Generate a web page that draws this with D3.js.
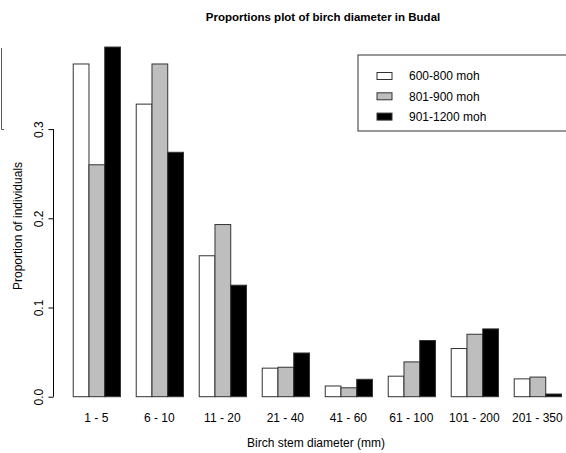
<!DOCTYPE html>
<html>
<head>
<meta charset="utf-8">
<script src="https://cdn.jsdelivr.net/npm/d3@7"></script>
<style>
  html, body { margin: 0; padding: 0; background: #fff; }
  svg { display: block; }
  text { font-family: "Liberation Sans", Arial, Helvetica, sans-serif; }
</style>
</head>
<body>
<svg id="chart" width="566" height="453"></svg>
<script>
const categories = ["1 - 5", "6 - 10", "11 - 20", "21 - 40", "41 - 60", "61 - 100", "101 - 200", "201 - 350"];
const seriesNames = ["600-800 moh", "801-900 moh", "901-1200 moh"];
const s600 = [0.373, 0.328, 0.158, 0.032, 0.012, 0.023, 0.054, 0.020];
const s801 = [0.260, 0.373, 0.193, 0.033, 0.010, 0.039, 0.070, 0.022];
const s901 = [0.392, 0.274, 0.125, 0.049, 0.0195, 0.063, 0.076, 0.003];
const seriesFill = ["#ffffff", "#bebebe", "#000000"];
const yTicks = [0, 0.1, 0.2, 0.3];

const series = [s600, s801, s901];
const svg = d3.select("#chart");

// x in "bar units" (R barplot beside layout: 3 bars + 1 space per group)
const x = d3.scaleLinear().domain([-0.24, 33.24]).range([53.2, 580.5]);
const y = d3.scaleLinear().domain([0, 0.3]).range([396.7, 129.1]);

// bars
const bars = [];
categories.forEach((c, i) => {
  series.forEach((s, j) => {
    bars.push({ cat: c, i, j, v: s[i] });
  });
});
svg.append("g").selectAll("rect").data(bars).join("rect")
  .attr("x", d => x(d.i * 4 + 1 + d.j) + 0.5)
  .attr("width", d => x(d.i * 4 + 2 + d.j) - x(d.i * 4 + 1 + d.j))
  .attr("y", d => y(d.v))
  .attr("height", d => y(0) - y(d.v))
  .attr("fill", d => seriesFill[d.j])
  .attr("stroke", "#333")
  .attr("stroke-width", 1);

// category labels
svg.append("g").selectAll("text").data(categories).join("text")
  .attr("x", (d, i) => x(i * 4 + 2.5))
  .attr("y", 422)
  .attr("text-anchor", "middle")
  .attr("font-size", 12)
  .attr("fill", "#000")
  .text(d => d);

// y axis
const yAxis = d3.axisLeft(y).tickValues(yTicks).tickSize(5).tickSizeOuter(0)
  .tickFormat(d3.format(".1f"));
const ga = svg.append("g").attr("transform", "translate(53.5,0)").call(yAxis);
ga.select(".domain").attr("stroke", "#000").attr("d", `M0,${y(0)}V${y(0.3)}`);
ga.selectAll(".tick line").attr("stroke", "#000");
ga.selectAll(".tick text")
  .attr("x", null).attr("dy", null)
  .attr("transform", "translate(-11,0) rotate(-90)")
  .attr("text-anchor", "middle")
  .attr("y", 0)
  .attr("font-size", 12)
  .attr("font-family", "Liberation Sans, Arial, sans-serif")
  .attr("fill", "#000");

// axis titles
svg.append("text")
  .attr("transform", "translate(22,226) rotate(-90)")
  .attr("text-anchor", "middle")
  .attr("font-size", 12)
  .text("Proportion of individuals");
svg.append("text")
  .attr("x", 316)
  .attr("y", 446.5)
  .attr("text-anchor", "middle")
  .attr("font-size", 12)
  .text("Birch stem diameter (mm)");

// title
svg.append("text")
  .attr("x", 323)
  .attr("y", 21)
  .attr("text-anchor", "middle")
  .attr("font-size", 11.5)
  .attr("font-weight", "bold")
  .text("Proportions plot of birch diameter in Budal");

// legend
const lg = svg.append("g");
lg.append("rect").attr("x", 358).attr("y", 55).attr("width", 240).attr("height", 76)
  .attr("fill", "none").attr("stroke", "#333").attr("stroke-width", 1);
const li = lg.selectAll("g.item").data(seriesNames).join("g").attr("class", "item")
  .attr("transform", (d, i) => `translate(0,${76 + i * 20.3})`);
li.append("rect").attr("x", 377).attr("y", -3.5).attr("width", 15).attr("height", 7)
  .attr("fill", (d, i) => seriesFill[i]).attr("stroke", "#333").attr("stroke-width", 1);
li.append("text").attr("x", 409).attr("y", 4.3).attr("font-size", 12).text(d => d);

// stray clipped frame at the far left edge
svg.append("path").attr("d", "M1.5,48V129.5H4").attr("fill", "none")
  .attr("stroke", "#555").attr("stroke-width", 1);
</script>
</body>
</html>
